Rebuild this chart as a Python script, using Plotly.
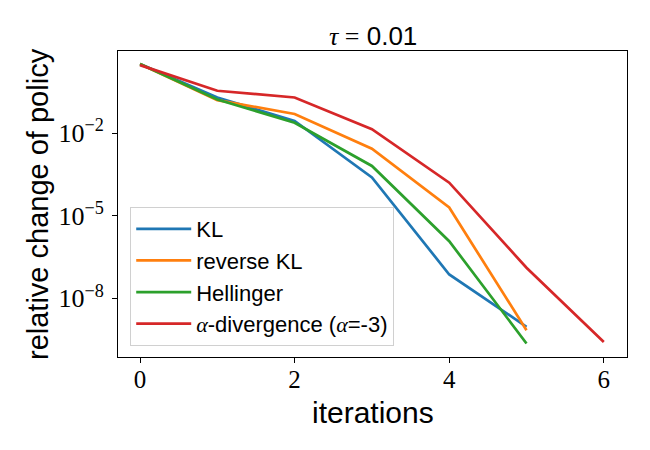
import plotly.graph_objects as go

iterations_4 = [0, 1, 2, 3, 4, 5]
iterations_alpha = [0, 1, 2, 3, 4, 5, 6]

kl = [3.3e0, 2.0e-1, 2.8e-2, 2.5e-4, 7.4e-8, 9.3e-10]
reverse_kl = [3.3e0, 1.6e-1, 5.0e-2, 2.75e-3, 2.0e-5, 7.0e-10]
hellinger = [3.3e0, 1.7e-1, 2.4e-2, 6.5e-4, 1.2e-6, 2.3e-10]
alpha_div = [3.0e0, 3.5e-1, 2.0e-1, 1.4e-2, 1.6e-4, 1.3e-7, 2.6e-10]

SERIF = "font-family:'Liberation Serif'"
series_names = ["KL", "reverse KL", "Hellinger",
                f"<span style=\"{SERIF}\"><i>α</i></span>-divergence (<span style=\"{SERIF}\"><i>α</i></span>=-3)"]
colors = ["#1f77b4", "#ff7f0e", "#2ca02c", "#d62728"]

y_tickvals = [1e-8, 1e-5, 1e-2]
y_ticktext = ["10<sup>−8</sup>", "10<sup>−5</sup>", "10<sup>−2</sup>"]
x_tickvals = [0, 2, 4, 6]

fig = go.Figure()
data = [(iterations_4, kl), (iterations_4, reverse_kl), (iterations_4, hellinger), (iterations_alpha, alpha_div)]
for (xs, ys), name, c in zip(data, series_names, colors):
    fig.add_trace(go.Scatter(x=xs, y=ys, mode="lines", name=name,
                             line=dict(color=c, width=2.7)))

fig.update_layout(
    width=650, height=450,
    margin=dict(l=110, r=31, t=43, b=101),
    paper_bgcolor="white", plot_bgcolor="white",
    font=dict(family="Liberation Sans", color="black"),
    showlegend=True,
    legend=dict(x=0.024, y=0.49, xanchor="left", yanchor="top",
                bgcolor="rgba(255,255,255,0.8)", bordercolor="#d0d0d0", borderwidth=1,
                font=dict(family="Liberation Sans", size=22, color="black"),
                tracegroupgap=0, itemwidth=55),
    xaxis=dict(range=[-0.285, 6.3], tickvals=x_tickvals, ticks="outside", ticklen=5,
               tickcolor="black", showline=True, linecolor="black", linewidth=1, mirror=True,
               showgrid=False, zeroline=False, ticklabelstandoff=-5,
               tickfont=dict(family="Liberation Serif", size=25, color="black")),
    yaxis=dict(type="log", range=[-10.13, 0.99], tickvals=y_tickvals, ticktext=y_ticktext,
               ticks="outside", ticklen=5, tickcolor="black", showline=True, linecolor="black",
               linewidth=1, mirror=True, showgrid=False, zeroline=False, ticklabelstandoff=3,
               tickfont=dict(family="Liberation Serif", size=26, color="black")),
    annotations=[
        dict(text=f"<span style=\"{SERIF}\"><i>τ</i> =</span> 0.01",
             xref="paper", yref="paper", x=0.5, y=1, yshift=15, xanchor="center", yanchor="middle",
             showarrow=False, font=dict(family="Liberation Sans", size=26, color="black")),
        dict(text="iterations", xref="paper", yref="paper", x=0.5, y=0, yshift=-55,
             xanchor="center", yanchor="middle", showarrow=False,
             font=dict(family="Liberation Sans", size=30, color="black")),
        dict(text="relative change of policy", xref="paper", yref="paper", x=0, y=0.5,
             xshift=-80, xanchor="center", yanchor="middle", textangle=-90, showarrow=False,
             font=dict(family="Liberation Sans", size=29, color="black")),
    ],
)

fig.write_html("out.html")
